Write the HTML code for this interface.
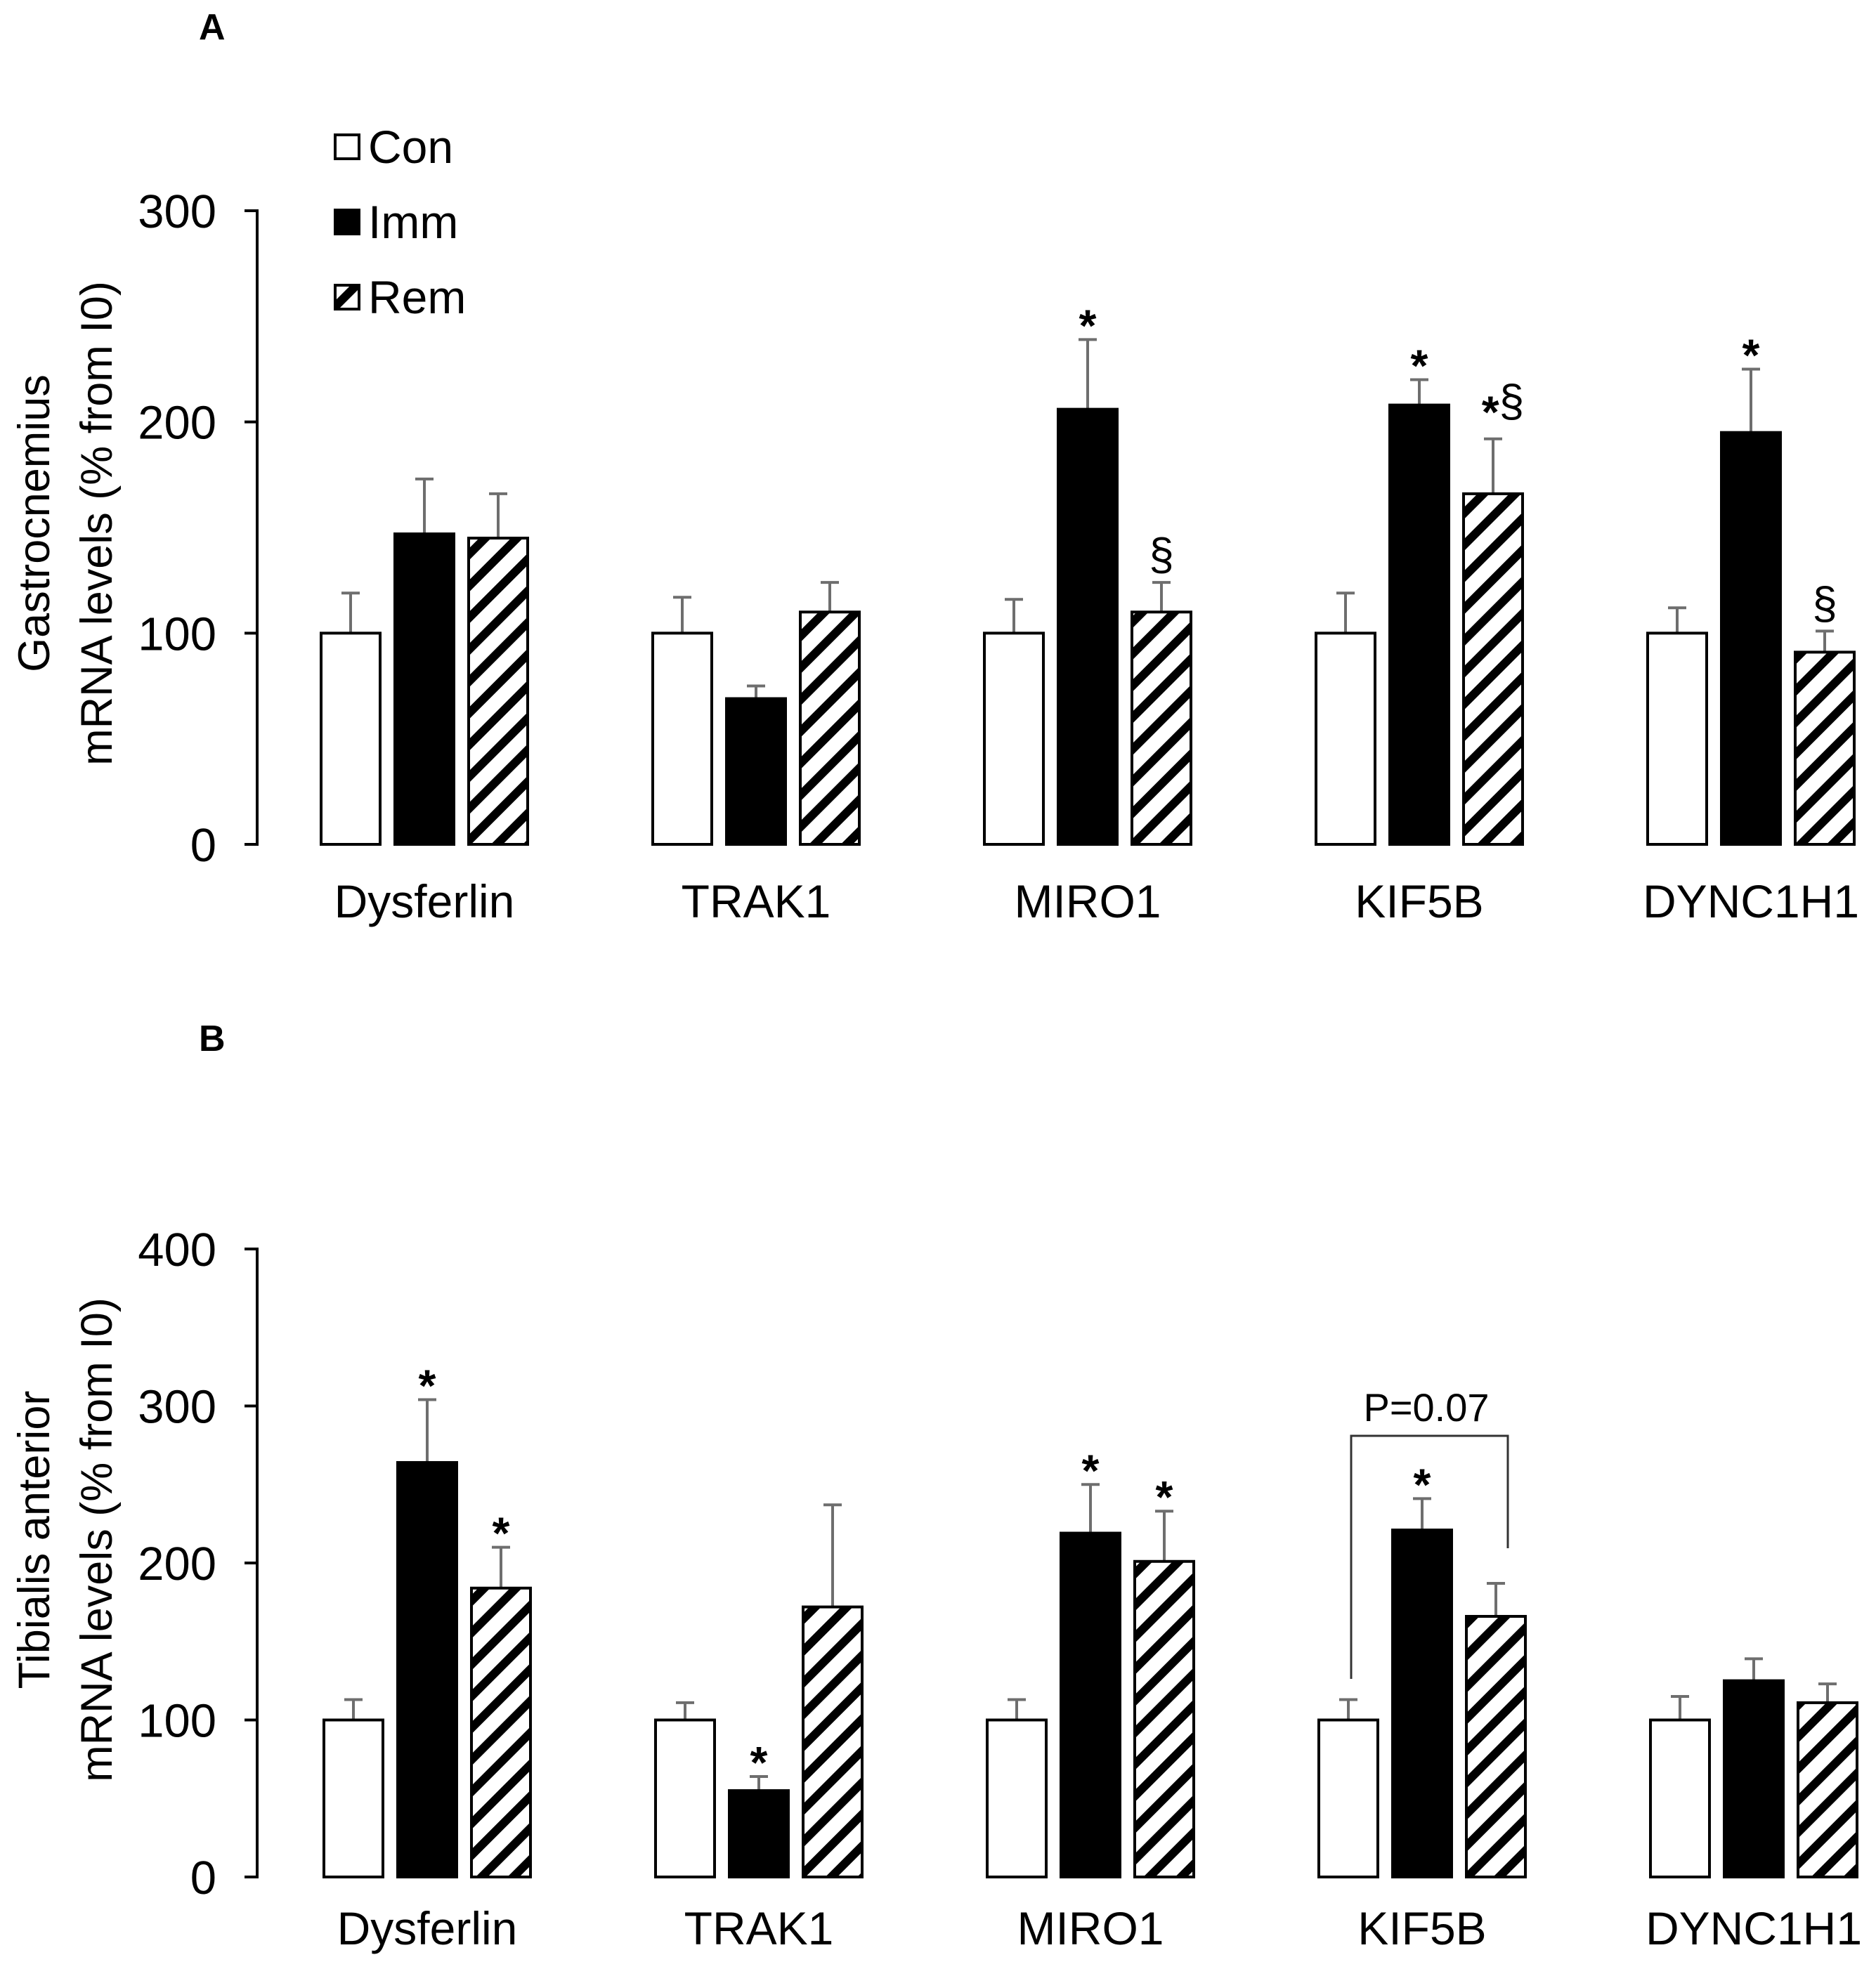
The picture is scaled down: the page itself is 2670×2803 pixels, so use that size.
<!DOCTYPE html>
<html><head><meta charset="utf-8"><style>
html,body{margin:0;padding:0;background:#fff;}
svg{display:block;font-family:"Liberation Sans",Arial,sans-serif;}
</style></head><body>
<svg id="chart" width="2670" height="2803" viewBox="0 0 2670 2803" xmlns="http://www.w3.org/2000/svg">
<defs>
<pattern id="hatch" patternUnits="userSpaceOnUse" width="32" height="32" patternTransform="rotate(45)">
<rect width="32" height="32" fill="#fff"/>
<rect x="0" y="0" width="12" height="32" fill="#000"/>
</pattern>
</defs>
<g id="root"></g>
</svg>
<script>
const categories = ["Dysferlin","TRAK1","MIRO1","KIF5B","DYNC1H1"];
const seriesNames = ["Con","Imm","Rem"];
const aCon = [100,100,100,100,100];
const aImm = [147,69,206,208,195];
const aRem = [145,110,110,166,91];
const aConErr = [119,117,116,119,112];
const aImmErr = [173,75,239,220,225];
const aRemErr = [166,124,124,192,101];
const aImmSig = ["","","*","*","*"];
const aRemSig = ["","","§","*§","§"];
const aTicks = [0,100,200,300];
const bCon = [100,100,100,100,100];
const bImm = [264,55,219,221,125];
const bRem = [184,172,201,166,111];
const bConErr = [113,111,113,113,115];
const bImmErr = [304,64,250,241,139];
const bRemErr = [210,237,233,187,123];
const bImmSig = ["*","*","*","*",""];
const bRemSig = ["*","","*","",""];
const bTicks = [0,100,200,300,400];

const NS="http://www.w3.org/2000/svg";
const root=document.getElementById('root');
function mk(tag,attrs,parent,text){const e=document.createElementNS(NS,tag);for(const k in attrs)e.setAttribute(k,attrs[k]);if(text!==undefined)e.textContent=text;(parent||root).appendChild(e);return e;}

function panel(opt){
  const g=mk('g',{});
  
  
  const yMax=opt.ticks[opt.ticks.length-1];
  const y=v=>opt.y0-(v/yMax)*(opt.y0-opt.yTop);
  const axisX=366;
  const groupX=i=>opt.x0+i*472;
  const fills=["#fff","#000","url(#hatch)"];
  const ax=mk('line',{x1:axisX,y1:y(yMax)-2,x2:axisX,y2:opt.y0+2,stroke:'#000','stroke-width':4},g);
  
  
  opt.ticks.forEach(t=>{
    const tl=mk('line',{x1:axisX-18,y1:y(t),x2:axisX,y2:y(t),stroke:'#000','stroke-width':4},g);
    
    
    const tx=mk('text',{x:308,y:y(t)+24,'font-size':67,'text-anchor':'end',fill:'#000'},g,String(t));
    
    
  });
  const yt=mk('text',{transform:`translate(${opt.titleX},${opt.titleY}) rotate(-90)`,'font-size':63,'text-anchor':'middle',fill:'#000'},g);
  
  
  mk('tspan',{x:0,dy:0},yt,opt.title1);
  mk('tspan',{x:0,dy:89},yt,opt.title2);
  const vals=[opt.con,opt.imm,opt.rem], errs=[opt.conErr,opt.immErr,opt.remErr], sigs=[null,opt.immSig,opt.remSig];
  categories.forEach((c,i)=>{
    for(let s=0;s<3;s++){
      const bx=groupX(i)+s*105;
      const bw=84;
      const cx=bx+bw/2;
      const e=errs[s][i];
      const el=mk('line',{x1:cx,y1:y(e),x2:cx,y2:y(vals[s][i]),stroke:'#6e6e6e','stroke-width':4},g);
      
      
      const ec=mk('line',{x1:cx-13,y1:y(e),x2:cx+13,y2:y(e),stroke:'#6e6e6e','stroke-width':4},g);
      
      
      const r=mk('rect',{x:bx,y:y(vals[s][i]),width:bw,height:opt.y0-y(vals[s][i]),fill:fills[s],stroke:'#000','stroke-width':4},g);
      
      
      if(sigs[s]&&sigs[s][i]){
        const sg=sigs[s][i];
        let st;
        if(sg==='*'){
          st=mk('text',{x:cx,y:y(e)+2,'font-size':64,'font-weight':'bold','text-anchor':'middle',fill:'#000'},g,sg);
        } else if(sg==='§'){
          st=mk('text',{x:cx,y:y(e)-18,'font-size':64,'text-anchor':'middle',fill:'#000'},g,sg);
        } else {
          st=mk('text',{x:cx+14,y:y(e)-32,'font-size':64,'text-anchor':'middle',fill:'#000'},g);
          mk('tspan',{'font-weight':'bold',dy:16},st,'*');
          mk('tspan',{dy:-16},st,'§');
        }
        
        
      }
    }
    const cl=mk('text',{x:groupX(i)+147,y:opt.labelY,'font-size':66,'text-anchor':'middle',fill:'#000'},g,c);
    
    
  });
  return {y,groupX,g};
}

panel({name:'panel-a',y0:1202,yTop:300,ticks:aTicks,x0:457,con:aCon,imm:aImm,rem:aRem,conErr:aConErr,immErr:aImmErr,remErr:aRemErr,immSig:aImmSig,remSig:aRemSig,labelY:1306,titleX:70,titleY:745,title1:'Gastrocnemius',title2:'mRNA levels (% from I0)'});
panel({name:'panel-b',y0:2672,yTop:1778,ticks:bTicks,x0:461,con:bCon,imm:bImm,rem:bRem,conErr:bConErr,immErr:bImmErr,remErr:bRemErr,immSig:bImmSig,remSig:bRemSig,labelY:2768,titleX:70,titleY:2192,title1:'Tibialis anterior',title2:'mRNA levels (% from I0)'});

const br=mk('path',{d:`M1923 2390 V2044 H2146 V2204`,fill:'none',stroke:'#333','stroke-width':3});


const pv=mk('text',{x:2030,y:2023,'font-size':56,'text-anchor':'middle',fill:'#000'},root,'P=0.07');



const la=mk('text',{x:283,y:56,'font-size':52,'font-weight':'bold',fill:'#000'},root,'A');


const lb=mk('text',{x:283,y:1496,'font-size':52,'font-weight':'bold',fill:'#000'},root,'B');



const legFills=["#fff","#000","url(#hatch)"];
seriesNames.forEach((n,i)=>{
  const yy=192+i*107;
  const lr=mk('rect',{x:477,y:yy,width:34,height:34,fill:legFills[i],stroke:'#000','stroke-width':4});
  
  
  const lt=mk('text',{x:524,y:yy+40,'font-size':66,fill:'#000'},root,n);
  
  
});
</script>
</body></html>
